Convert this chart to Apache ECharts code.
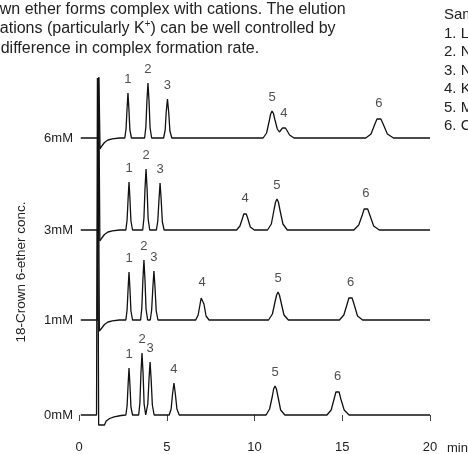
<!DOCTYPE html>
<html>
<head>
<meta charset="utf-8">
<script src="https://cdn.jsdelivr.net/npm/echarts@6.0.0/dist/echarts.min.js"></script>
<style>
  html, body { margin: 0; padding: 0; background: #fff; }
  #chart { width: 468px; height: 454px; }
</style>
</head>
<body>
<div id="chart"></div>
<script>
// ---------- data ----------
const concLabels = ['0mM', '1mM', '3mM', '6mM'];
const baseOffsets = [0, 95, 185, 277];          // vertical offset of each trace (signal units)
const xTicks = [0, 5, 10, 15, 20];              // retention time, min
const peakNames = ['1', '2', '3', '4', '5', '6'];

// chromatogram traces: [time (min), signal above own baseline]
const trace0mM = [
  [0.1,0],[1.0,0],[1.05,337],[1.12,-10],[1.45,-10],[1.55,-6],[1.75,-3.5],[2.0,-1.8],[2.4,-0.5],[2.67,0],
  [2.74,9],[2.80,31],[2.85,47],[2.90,31],[2.96,8],[3.05,0],
  [3.40,0],[3.47,12],[3.53,42],[3.59,62],[3.65,42],[3.71,11],[3.80,0],
  [3.84,0],[3.92,11],[3.99,36],[4.05,53],[4.11,36],[4.18,10],[4.28,0],
  [5.14,0],[5.25,6],[5.33,21],[5.41,32],[5.49,21],[5.58,6],[5.71,0],
  [10.66,0],[10.86,6],[11.02,19],[11.09,26],[11.17,29],[11.25,26],[11.33,19],[11.49,5],[11.73,0],
  [14.13,0],[14.37,5],[14.55,17],[14.64,23],[14.73,25],[14.82,23],[14.92,16],[15.11,5],[15.39,0],
  [20,0]
];
const trace1mM = [
  [0.1,0],[1.04,0],[1.09,242],[1.16,-11],[1.3,-8],[1.45,-4.5],[1.65,-2],[1.9,-0.8],[2.3,0],[2.67,0],
  [2.74,10],[2.80,32],[2.85,48],[2.90,32],[2.96,9],[3.05,0],
  [3.51,0],[3.58,12],[3.64,40],[3.70,60],[3.76,40],[3.82,11],[3.91,0],
  [4.06,0],[4.14,10],[4.21,33],[4.27,49],[4.33,33],[4.40,9],[4.50,0],
  [6.65,0],[6.79,5],[6.90,16],[6.96,22],[7.01,24],[7.06,22],[7.12,16],[7.24,4],[7.41,0],
  [10.80,0],[11.02,6],[11.18,19],[11.26,25],[11.34,28],[11.42,25],[11.51,18],[11.68,5],[11.93,0],
  [14.84,0],[15.09,5],[15.28,16],[15.38,22],[15.47,24],[15.56,22],[15.67,16],[15.87,4],[16.16,0],
  [20,0]
];
const trace3mM = [
  [0.1,0],[1.07,0],[1.12,152],[1.19,-11],[1.3,-8],[1.45,-4.5],[1.65,-2],[1.9,-0.8],[2.3,0],[2.67,0],
  [2.74,10],[2.80,32],[2.85,48],[2.90,32],[2.96,9],[3.05,0],
  [3.63,0],[3.70,12],[3.76,41],[3.82,61],[3.88,41],[3.94,11],[4.03,0],
  [4.41,0],[4.49,9],[4.56,31],[4.62,47],[4.68,31],[4.75,8],[4.85,0],
  [8.98,0],[9.17,4],[9.32,12],[9.39,16],[9.46,18],[9.53,16],[9.61,12],[9.76,3],[9.99,0],
  [10.74,0],[10.96,6],[11.12,21],[11.20,28],[11.28,31],[11.36,28],[11.45,20],[11.62,6],[11.87,0],
  [15.66,0],[15.94,5],[16.14,15],[16.25,21],[16.35,23],[16.45,21],[16.57,15],[16.79,4],[17.11,0],
  [20,0]
];
const trace6mM = [
  [0.1,0],[1.09,0],[1.13,61],[1.2,-11],[1.3,-8],[1.45,-4.5],[1.65,-2],[1.9,-0.8],[2.3,0],[2.61,0],
  [2.68,9],[2.74,30],[2.79,45],[2.84,30],[2.90,8],[2.99,0],
  [3.74,0],[3.81,11],[3.87,37],[3.93,55],[3.99,37],[4.05,10],[4.14,0],
  [4.82,0],[4.91,8],[4.97,26],[5.04,39],[5.11,26],[5.18,7],[5.29,0],
  [10.49,0],[10.69,5],[10.85,18],[10.92,24],[11.0,27],[11.08,24.5],[11.16,18.5],[11.3,9],[11.42,6],[11.52,8],[11.6,10.2],[11.68,11],[11.76,10],[11.85,7.5],[12.0,3],[12.25,0],
  [16.34,0],[16.64,4],[16.86,14],[16.98,19],[17.09,21],[17.20,19],[17.33,14],[17.57,4],[17.92,0],
  [20,0]
];

// peak apexes [time, height] in order of peak numbers 1..6
const apex0mM = [[2.85,47],[3.59,62],[4.05,53],[5.41,32],[11.17,29],[14.73,25]];
const apex1mM = [[2.85,48],[3.70,60],[4.27,49],[7.01,24],[11.34,28],[15.47,24]];
const apex3mM = [[2.85,48],[3.82,61],[4.62,47],[9.46,18],[11.28,31],[16.35,23]];
const apex6mM = [[2.79,45],[3.93,55],[5.04,39],[11.68,11],[11.0,27],[17.09,21]];

const titleLines = [
  'Crown ether forms complex with cations. The elution',
  'of cations (particularly K{sup|+}) can be well controlled by',
  'the difference in complex formation rate.'
];
const sampleLines = ['Sample', '1. Li⁺', '2. Na⁺', '3. NH₄⁺', '4. K⁺', '5. Mg²⁺', '6. Ca²⁺'];
const yAxisTitle = '18-Crown 6-ether conc.';
const xUnit = 'min';

// ---------- chart ----------
const FONT = '"Liberation Sans", Arial, Helvetica, sans-serif';
const TEXT = '#222';
const traces = [trace0mM, trace1mM, trace3mM, trace6mM];
const apexes = [apex0mM, apex1mM, apex3mM, apex6mM];

const series = [];
traces.forEach((tr, i) => {
  series.push({
    type: 'line',
    name: concLabels[i],
    data: tr.map(p => [p[0], p[1] + baseOffsets[i]]),
    showSymbol: false,
    symbol: 'none',
    clip: false,
    silent: true,
    lineStyle: { color: '#111', width: 1.3 },
    z: 2
  });
  series.push({
    type: 'scatter',
    data: apexes[i].map((p, k) => ({ value: [p[0], p[1] + baseOffsets[i]], name: peakNames[k] })),
    symbolSize: 2,
    itemStyle: { color: 'rgba(0,0,0,0)' },
    silent: true,
    clip: false,
    label: {
      show: true, position: 'top', distance: 6,
      formatter: p => p.name,
      fontFamily: FONT, fontSize: 13, color: TEXT
    },
    labelLayout: { hideOverlap: false },
    z: 3
  });
});

const graphics = [];
titleLines.forEach((t, i) => {
  graphics.push({
    type: 'text', x: -26, y: 9.5 + i * 19.5,
    style: {
      text: t, fontFamily: FONT, fontSize: 16, fill: TEXT,
      align: 'left', verticalAlign: 'middle', lineHeight: 19,
      rich: { sup: { fontFamily: FONT, fontSize: 10, fill: TEXT, verticalAlign: 'top', lineHeight: 19 } }
    }
  });
});
sampleLines.forEach((t, i) => {
  graphics.push({
    type: 'text', x: 444, y: 15 + i * 18.5,
    style: { text: t, fontFamily: FONT, fontSize: 15, fill: TEXT, align: 'left', verticalAlign: 'middle' }
  });
});
graphics.push({
  type: 'text', x: 21, y: 272, rotation: Math.PI / 2,
  style: { text: yAxisTitle, fontFamily: FONT, fontSize: 13.5, fill: TEXT, align: 'center', verticalAlign: 'middle' }
});
graphics.push({
  type: 'text', x: 447, y: 448,
  style: { text: xUnit, fontFamily: FONT, fontSize: 13, fill: TEXT, align: 'left', verticalAlign: 'middle' }
});

const chart = echarts.init(document.getElementById('chart'), null, { renderer: 'canvas' });
chart.setOption({
  animation: false,
  backgroundColor: '#fff',
  grid: { left: 79, right: 38, top: 65, bottom: 39, outerBoundsMode: 'none', containLabel: false },
  xAxis: {
    type: 'value', min: xTicks[0], max: xTicks[xTicks.length - 1], interval: xTicks[1] - xTicks[0],
    offset: 16,
    axisLine: { show: false },
    axisTick: { show: true, length: 6, lineStyle: { color: '#444', width: 1 } },
    axisLabel: { margin: 10, fontFamily: FONT, fontSize: 13, color: TEXT },
    splitLine: { show: false }
  },
  yAxis: {
    type: 'value', min: 0, max: 350,
    axisLine: { show: false },
    axisTick: { show: false },
    splitLine: { show: false },
    axisLabel: {
      customValues: baseOffsets,
      formatter: v => { const k = baseOffsets.indexOf(v); return k >= 0 ? concLabels[k] : ''; },
      margin: 6, fontFamily: FONT, fontSize: 13, color: TEXT
    }
  },
  graphic: graphics,
  series: series
});
</script>
</body>
</html>
